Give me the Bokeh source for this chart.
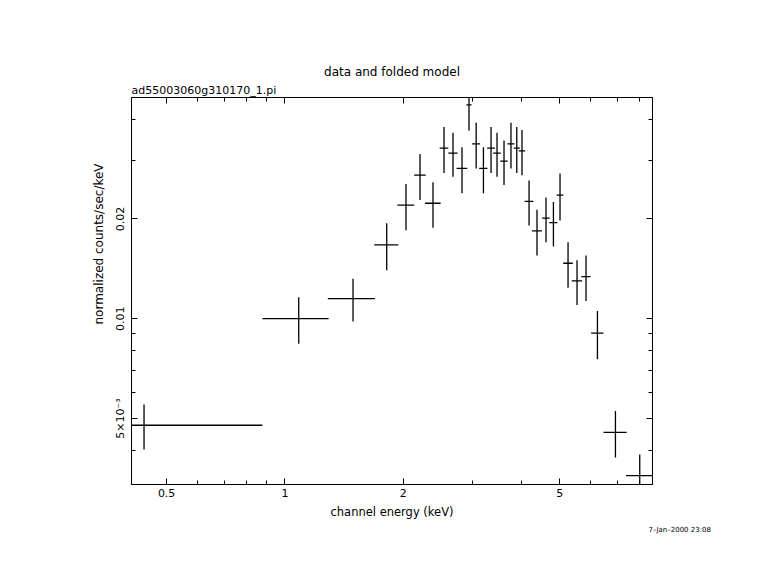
import numpy as np
from bokeh.plotting import figure
from bokeh.models import LogAxis, FixedTicker, Title, Range1d, ColumnDataSource
from bokeh.embed import file_html
from bokeh.resources import INLINE

# ---- data ----
energy = [0.438, 1.084, 1.490, 1.815, 2.032, 2.206, 2.380, 2.539, 2.676, 2.821,
          2.939, 3.065, 3.198, 3.344, 3.463, 3.608, 3.758, 3.888, 4.009, 4.178,
          4.377, 4.614, 4.819, 5.009, 5.250, 5.534, 5.833, 6.236, 6.930, 7.990]
half_width = [0.438, 0.2075, 0.2045, 0.128, 0.100, 0.075, 0.109, 0.064, 0.073, 0.088,
              0.044, 0.072, 0.078, 0.076, 0.077, 0.078, 0.078, 0.070, 0.075, 0.107,
              0.129, 0.103, 0.117, 0.100, 0.148, 0.170, 0.157, 0.225, 0.470, 0.615]
rate = [0.00477, 0.0100, 0.0115, 0.0167, 0.0220, 0.0271, 0.0223, 0.0327, 0.0316, 0.0284,
        0.0442, 0.0337, 0.0284, 0.0327, 0.0316, 0.0299, 0.0337, 0.0327, 0.0321, 0.0226,
        0.0184, 0.0201, 0.0195, 0.0236, 0.0147, 0.0130, 0.0134, 0.00905, 0.00454, 0.00336]
rate_err = [0.00074, 0.0016, 0.0017, 0.0027, 0.0035, 0.0043, 0.0035, 0.0052, 0.0048, 0.0045,
            0.0073, 0.0053, 0.0045, 0.0052, 0.0048, 0.0046, 0.0053, 0.0052, 0.0050, 0.0035,
            0.0029, 0.0031, 0.0030, 0.0038, 0.0023, 0.0020, 0.0021, 0.0015, 0.00073, 0.00053]

x_major = [0.5, 1, 2, 5]
x_minor = [0.6, 0.7, 0.8, 0.9, 3, 4, 6, 7, 8]
y_major = [0.005, 0.01, 0.02]
y_minor = [0.004, 0.006, 0.007, 0.008, 0.009, 0.03, 0.04]
y_label_overrides = {0.005: "5×10⁻³", 0.01: "0.01", 0.02: "0.02"}
x_label_overrides = {0.5: "0.5", 1: "1", 2: "2", 5: "5"}

XMIN, XMAX = 0.407, 8.61
YMIN, YMAX = 0.00316, 0.0465

FONT = "DejaVu Sans"

e = np.array(energy)
hw = np.array(half_width)
r = np.array(rate)
er = np.array(rate_err)
src = ColumnDataSource(dict(
    energy=e, rate=r,
    xlo=np.maximum(e - hw, XMIN * 0.98), xhi=e + hw,
    ylo=r - er, yhi=r + er,
))

p = figure(x_axis_type="log", y_axis_type="log",
           x_range=Range1d(XMIN, XMAX), y_range=Range1d(YMIN, YMAX),
           frame_width=521, frame_height=387,
           min_border_left=131, min_border_right=121,
           min_border_top=97, min_border_bottom=88,
           output_backend="svg", toolbar_location=None, title_location=None)
p.grid.visible = False
p.outline_line_color = "black"
p.outline_line_width = 1
p.background_fill_color = "white"
p.border_fill_color = "white"

p.segment(x0="xlo", y0="rate", x1="xhi", y1="rate", source=src,
          line_color="black", line_width=1.3)
p.segment(x0="energy", y0="ylo", x1="energy", y1="yhi", source=src,
          line_color="black", line_width=1.3)


def style(ax, ticks, minor, overrides, show_labels):
    ax.ticker = FixedTicker(ticks=ticks, minor_ticks=minor)
    ax.major_tick_in = 6
    ax.major_tick_out = 0
    ax.minor_tick_in = 4
    ax.minor_tick_out = 0
    ax.major_tick_line_color = "black"
    ax.minor_tick_line_color = "black"
    ax.axis_line_color = "black"
    ax.major_label_text_font = FONT
    ax.major_label_text_color = "black"
    ax.axis_label_text_font = FONT
    ax.axis_label_text_font_style = "normal"
    ax.axis_label_text_color = "black"
    ax.axis_label_text_font_size = "11.5px"
    ax.major_label_text_font_size = "11px"
    if show_labels:
        ax.major_label_overrides = overrides
    else:
        ax.major_label_overrides = {t: "" for t in ticks}
        ax.major_label_standoff = 0


xa = p.xaxis[0]
style(xa, x_major, x_minor, x_label_overrides, True)
xa.axis_label = "channel energy (keV)"
xa.major_label_standoff = 4
xa.axis_label_standoff = 5

ya = p.yaxis[0]
style(ya, y_major, y_minor, y_label_overrides, True)
ya.major_label_orientation = "vertical"
ya.major_label_standoff = 4

p.add_layout(Title(text="normalized counts/sec/keV", align="left", offset=160,
                   text_font=FONT, text_font_size="12px", text_font_style="normal",
                   text_color="black", standoff=11), "left")

top = LogAxis()
style(top, x_major, x_minor, {}, False)
p.add_layout(top, "above")
right = LogAxis()
style(right, y_major, y_minor, {}, False)
p.add_layout(right, "right")

p.add_layout(Title(text="ad55003060g310170_1.pi", align="left", text_font=FONT,
                   text_font_size="11px", text_font_style="normal",
                   text_color="black", standoff=2), "above")
p.add_layout(Title(text="data and folded model", align="center", text_font=FONT,
                   text_font_size="12px", text_font_style="normal",
                   text_color="black", standoff=4), "above")
p.add_layout(Title(text="7\u2013Jan\u20132000 23:08", align="left", offset=517,
                   text_font=FONT, text_font_size="7px", text_font_style="normal",
                   text_color="black", standoff=5), "below")

open("out.html", "w").write(file_html(p, INLINE))
